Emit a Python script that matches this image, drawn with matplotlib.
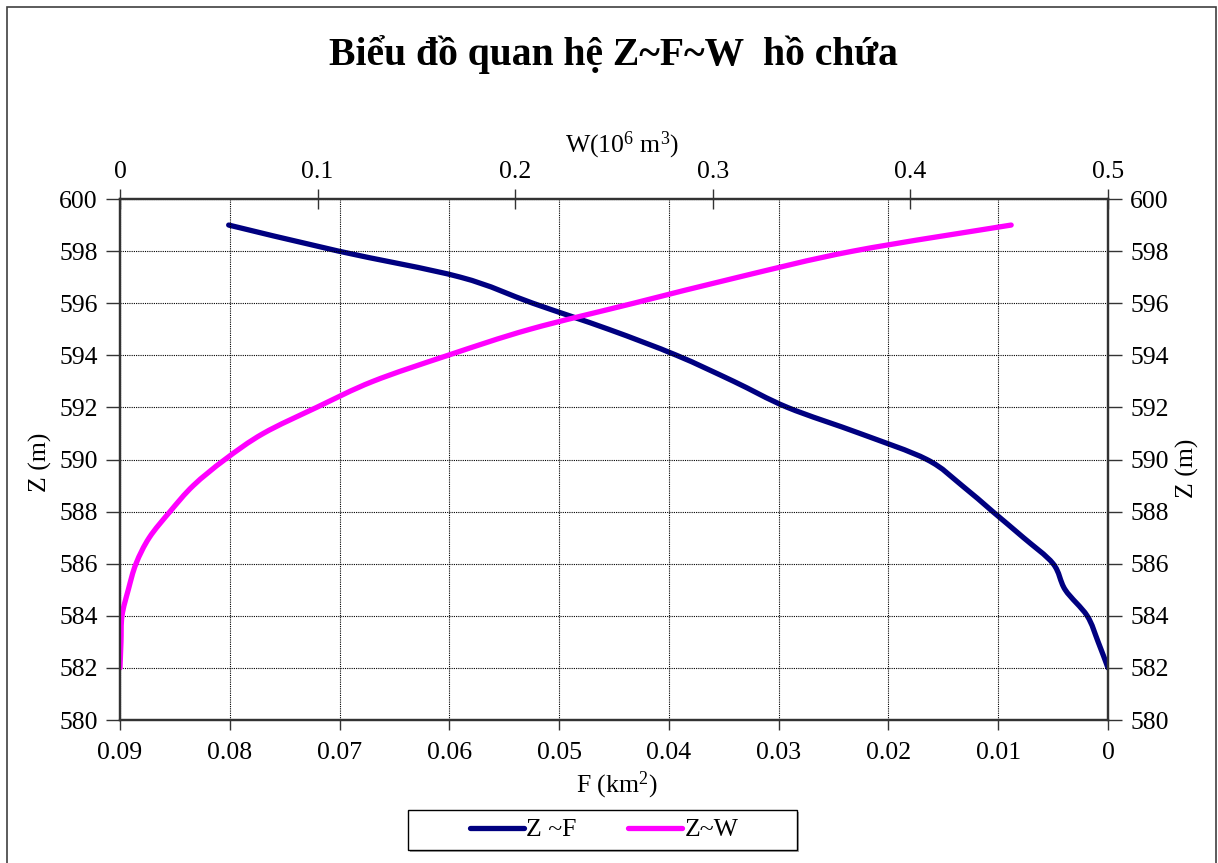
import matplotlib.pyplot as plt
from matplotlib.patches import Rectangle, PathPatch
from matplotlib.path import Path
from matplotlib.lines import Line2D

plt.rcParams['font.family'] = ['Liberation Serif', 'DejaVu Serif']
plt.rcParams['mathtext.fontset'] = 'custom'
plt.rcParams['mathtext.rm'] = 'Liberation Serif'
plt.rcParams['mathtext.it'] = 'Liberation Serif:italic'

# data
z = [582, 583, 584, 585, 586, 587, 588, 589, 590,
     591, 592, 593, 594, 595, 596, 597, 598, 599]
f = [0.0, 0.0009, 0.0019, 0.0039, 0.0050, 0.0077, 0.0105, 0.0133, 0.0165,
     0.0226, 0.0292, 0.0341, 0.0393, 0.0455, 0.0524, 0.0590, 0.0701, 0.0801]
w = [0.0, 0.0005, 0.001, 0.0042, 0.0081, 0.0148, 0.0253, 0.0371, 0.0531,
     0.0725, 0.0995, 0.128, 0.166, 0.2075, 0.260, 0.313, 0.371, 0.451]

f_ticks = [0.09, 0.08, 0.07, 0.06, 0.05, 0.04, 0.03, 0.02, 0.01, 0.0]
f_labels = ['0.09', '0.08', '0.07', '0.06', '0.05', '0.04', '0.03', '0.02', '0.01', '0']
w_ticks = [0.0, 0.1, 0.2, 0.3, 0.4, 0.5]
w_labels = ['0', '0.1', '0.2', '0.3', '0.4', '0.5']
z_ticks = [580, 582, 584, 586, 588, 590, 592, 594, 596, 598, 600]


def smooth_path(xs, ys):
    # Excel-like smoothed line: Catmull-Rom turned into cubic Bezier
    pts = list(zip(xs, ys))
    verts = [pts[0]]
    codes = [Path.MOVETO]
    n = len(pts)
    for i in range(n - 1):
        p0 = pts[i - 1] if i > 0 else pts[i]
        p1 = pts[i]
        p2 = pts[i + 1]
        p3 = pts[i + 2] if i + 2 < n else pts[i + 1]
        c1 = (p1[0] + (p2[0] - p0[0]) / 6, p1[1] + (p2[1] - p0[1]) / 6)
        c2 = (p2[0] - (p3[0] - p1[0]) / 6, p2[1] - (p3[1] - p1[1]) / 6)
        verts += [c1, c2, p2]
        codes += [Path.CURVE4] * 3
    return Path(verts, codes)


W_PX, H_PX = 1218, 863
fig = plt.figure(figsize=(W_PX / 100, H_PX / 100), dpi=100)
ax = fig.add_axes([120 / W_PX, 1 - 720 / H_PX, (1108 - 120) / W_PX, (720 - 199) / H_PX])

# outer chart border
fig.patches.append(Rectangle((7 / W_PX, -0.02), (1216 - 7) / W_PX, 1 - 7 / H_PX + 0.02,
                             transform=fig.transFigure, fill=False,
                             edgecolor='#404040', lw=1.2))

fs = 18.5
spine_c = '#333333'
blue = '#000080'
pink = '#FF00FF'
lw = 3.8

ax.add_patch(PathPatch(smooth_path(f, z), fill=False, edgecolor=blue, lw=lw,
                       capstyle='round', joinstyle='round'))
ax.set_xlim(0.09, 0)
ax.set_ylim(580, 600)
ax.set_xticks(f_ticks)
ax.set_xticklabels(f_labels)
ax.set_yticks(z_ticks)
ax.grid(True, color='black', ls=(0, (1, 1)), lw=0.8)
ax.tick_params(axis='x', direction='out', length=7, width=1, pad=9,
               labelsize=fs, color=spine_c)
ax.tick_params(axis='y', direction='out', length=10, width=1, pad=6,
               labelsize=fs, right=True, labelright=True, color=spine_c)
for s in ax.spines.values():
    s.set_color(spine_c)
    s.set_linewidth(1.6)

ax2 = ax.twiny()
ax2.add_patch(PathPatch(smooth_path(w, z), fill=False, edgecolor=pink, lw=lw,
                        capstyle='round', joinstyle='round'))
ax2.set_xlim(0, 0.5)
ax2.set_ylim(580, 600)
ax2.set_xticks(w_ticks)
ax2.set_xticklabels(w_labels)
ax2.tick_params(axis='x', direction='inout', length=15, width=1, pad=4,
                labelsize=fs, color=spine_c)
for s in ax2.spines.values():
    s.set_color(spine_c)
    s.set_linewidth(1.6)

# titles and axis labels
fig.text(613 / W_PX, 1 - 55 / H_PX, 'Biểu đồ quan hệ Z~F~W  hồ chứa',
         ha='center', va='center', fontsize=28.5, fontweight='bold')
fig.text(622 / W_PX, 1 - 145 / H_PX, 'W(10$^{6}$ m$^{3}$)',
         ha='center', va='center', fontsize=fs)
fig.text(617 / W_PX, 1 - 785 / H_PX, 'F (km$^{2}$)',
         ha='center', va='center', fontsize=fs)
fig.text(40 / W_PX, 1 - 462 / H_PX, 'Z (m)', rotation=90,
         ha='center', va='center', fontsize=fs)
fig.text(1187 / W_PX, 1 - 468 / H_PX, 'Z (m)', rotation=90,
         ha='center', va='center', fontsize=fs)

# legend box drawn like the Excel one
fig.patches.append(Rectangle((410 / W_PX, 1 - 852 / H_PX), 389 / W_PX, 40 / H_PX,
                             transform=fig.transFigure, facecolor='#aaaaaa',
                             edgecolor='none'))
fig.patches.append(Rectangle((408 / W_PX, 1 - 850 / H_PX), 389 / W_PX, 40 / H_PX,
                             transform=fig.transFigure, facecolor='white',
                             edgecolor='black', lw=1))
handles = [Line2D([], [], color=blue, lw=lw, solid_capstyle='round'),
           Line2D([], [], color=pink, lw=lw, solid_capstyle='round')]
fig.legend(handles, ['Z ~F', 'Z~W'], loc='center',
           bbox_to_anchor=(604 / W_PX, 1 - 830 / H_PX),
           ncol=2, frameon=False, fontsize=fs, handlelength=2.1,
           handletextpad=0.1, columnspacing=2.0, borderpad=0.2)

fig.savefig('out.png', dpi=100)
